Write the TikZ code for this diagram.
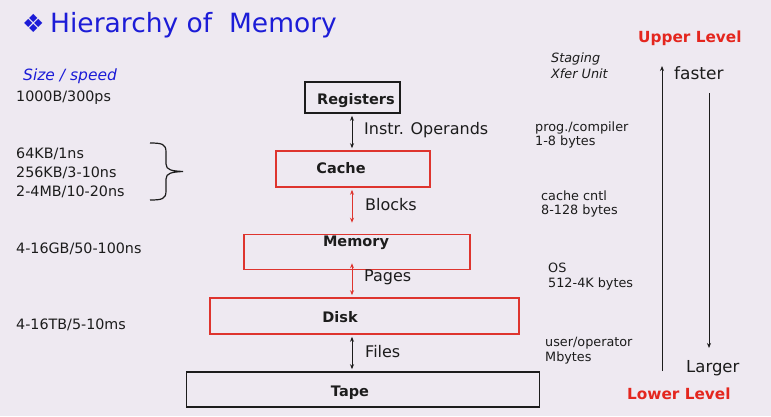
\documentclass[tikz,border=0pt]{standalone}
\usepackage{fontspec}
\setmainfont{DejaVu Sans}
\usetikzlibrary{arrows.meta}
\definecolor{bg}{RGB}{238,233,241}
\definecolor{titleblue}{RGB}{28,28,215}
\definecolor{boxred}{RGB}{222,52,46}
\definecolor{lvlred}{RGB}{228,38,30}
\definecolor{ink}{RGB}{28,28,28}
\begin{document}
\begin{tikzpicture}[x=1pt,y=-1pt,
  lbl/.style={inner sep=0pt,anchor=base west,text=ink,font=\fontsize{14.3}{16}\selectfont},
  note/.style={inner sep=0pt,anchor=base west,text=ink,font=\fontsize{12.8}{14}\selectfont},
  flow/.style={inner sep=0pt,anchor=base west,text=ink,font=\fontsize{16}{18}\selectfont},
  boxname/.style={inner sep=0pt,anchor=base,text=ink,font=\bfseries\fontsize{14.5}{16}\selectfont},
  level/.style={inner sep=0pt,anchor=base west,text=lvlred,font=\bfseries\fontsize{15.3}{18}\selectfont},
  blackbox/.style={draw=ink,line width=1.6pt,inner sep=0pt},
  redbox/.style={draw=boxred,line width=1.6pt,inner sep=0pt},
  dbl/.style={line width=1pt,{Stealth[length=5pt,width=4pt]}-{Stealth[length=5pt,width=4pt]}},
  tip/.style={line width=1pt,-{Stealth[length=5pt,width=4pt]}}]
\fill[bg] (0,0) rectangle (771,416);

% title
\node[inner sep=0pt,anchor=base west,text=titleblue,font=\fontsize{25}{28}\selectfont] (bullet) at (22,32) {❖};
\node[inner sep=0pt,anchor=base west,text=titleblue,font=\fontsize{26.5}{30}\selectfont] (title) at (50,32) {Hierarchy of\ \ Memory};

% size / speed column
\node[inner sep=0pt,anchor=base west,text=titleblue,font=\itshape\fontsize{15.5}{17}\selectfont] (sshead) at (23,80) {Size / speed};
\node[lbl] (s1) at (16,101) {1000B/300ps};
\node[lbl] (s2) at (16,158) {64KB/1ns};
\node[lbl] (s3) at (16,177) {256KB/3-10ns};
\node[lbl] (s4) at (16,196) {2-4MB/10-20ns};
\node[lbl] (s5) at (16,253) {4-16GB/50-100ns};
\node[lbl] (s6) at (16,329) {4-16TB/5-10ms};
\draw[ink,line width=1.2pt]
  (150,143) .. controls (162,143) and (166,144) .. (166,152)
  -- (166,164) .. controls (166,170) and (172,171) .. (183,171.5)
  .. controls (172,172) and (166,173) .. (166,179)
  -- (166,191) .. controls (166,199) and (162,200) .. (150,200);

% memory levels
\node[blackbox,minimum width=95pt,minimum height=31pt] (reg) at (352.5,97.5) {};
\node[redbox,minimum width=154pt,minimum height=36pt] (cache) at (353,169) {};
\node[redbox,minimum width=226pt,minimum height=35pt] (mem) at (357,252) {};
\node[redbox,minimum width=309pt,minimum height=36pt] (disk) at (364.5,316) {};
\node[blackbox,minimum width=353pt,minimum height=35pt] (tape) at (363,389.5) {};

\node[boxname] (regt) at (356,104) {Registers};
\node[boxname] (cachet) at (341,173) {Cache};
\node[boxname] (memt) at (356,246) {Memory};
\node[boxname] (diskt) at (340,322) {Disk};
\node[boxname] (tapet) at (350,396) {Tape};

% transfers between levels
\coordinate (axis) at (352,0);
\draw[dbl,ink] ([yshift=-2pt]axis |- reg.south) -- ([yshift=2pt]axis |- cache.north);
\draw[dbl,boxred] ([yshift=-2pt]axis |- cache.south) -- ([yshift=11pt]axis |- mem.north);
\draw[dbl,boxred] ([yshift=7pt]axis |- mem.south) -- ([yshift=2pt]axis |- disk.north);
\draw[dbl,ink] ([yshift=-2pt]axis |- disk.south) -- ([yshift=2pt]axis |- tape.north);

\node[flow] (f1) at (364,134) {Instr. Operands};
\node[flow] (f2) at (365,210) {Blocks};
\node[flow] (f3) at (364,281) {Pages};
\node[flow] (f4) at (365,357) {Files};

% staging units
\node[note,font=\itshape\fontsize{12.8}{14}\selectfont] (st1) at (551,62) {Staging};
\node[note,font=\itshape\fontsize{12.8}{14}\selectfont] (st2) at (551,78) {Xfer Unit};
\node[note] (u1) at (535,131) {prog./compiler};
\node[note] (u2) at (535,145) {1-8 bytes};
\node[note] (u3) at (541,200) {cache cntl};
\node[note] (u4) at (541,214) {8-128 bytes};
\node[note] (u5) at (548,272) {OS};
\node[note] (u6) at (548,287) {512-4K bytes};
\node[note] (u7) at (545,346) {user/operator};
\node[note] (u8) at (545,361) {Mbytes};

% level indicators
\node[level] (upper) at (638,42) {Upper Level};
\node[level] (lower) at (627,399) {Lower Level};
\node[flow,font=\fontsize{17}{19}\selectfont] (faster) at (674,79) {faster};
\node[flow,font=\fontsize{16.5}{18}\selectfont] (larger) at (686,372) {Larger};
\coordinate (upfrom) at (662,371);
\coordinate (upto) at (662,66);
\coordinate (dnfrom) at (709,93);
\coordinate (dnto) at (709,348);
\draw[tip,ink] (upfrom) -- (upto);
\draw[tip,ink] (dnfrom) -- (dnto);
\end{tikzpicture}
\end{document}
